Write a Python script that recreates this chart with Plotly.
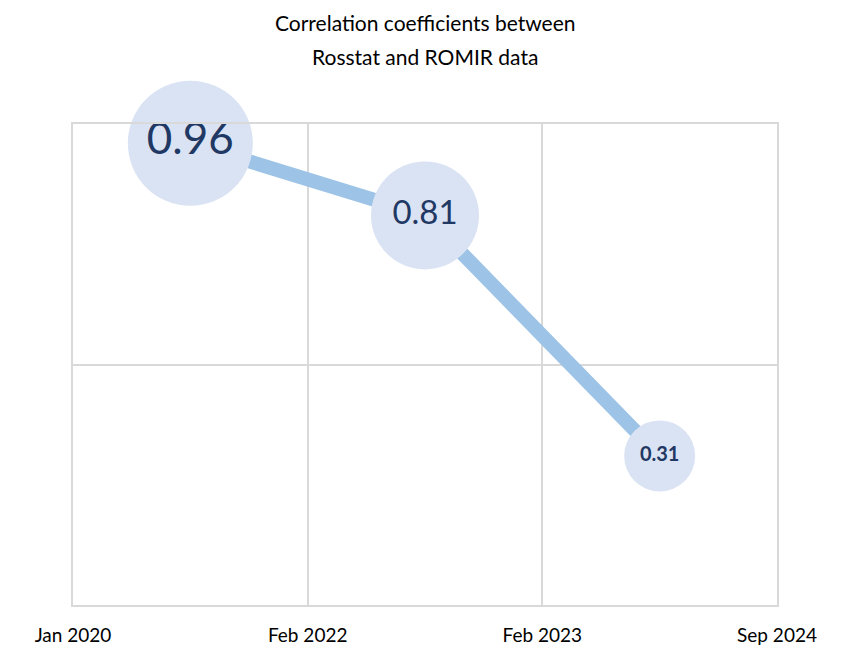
import plotly.graph_objects as go

# Data
tick_labels = ["Jan 2020", "Feb 2022", "Feb 2023", "Sep 2024"]
coefficients = [0.96, 0.81, 0.31]
bubble_sizes = [125, 108, 71]
label_sizes = [44, 33, 20]
label_bold = [False, False, True]

# each coefficient sits in the middle of the period between consecutive ticks
tick_pos = list(range(len(tick_labels)))
x_mid = [(tick_pos[i] + tick_pos[i + 1]) / 2 for i in range(len(coefficients))]
texts = [f"<b>{v:.2f}</b>" if b else f"{v:.2f}" for v, b in zip(coefficients, label_bold)]

FONT = "Lato, 'Open Sans', sans-serif"
GRID = "#D9D9D9"
W, H = 850, 658
ML, MR, MT, MB = 65, 81, 116, 61

fig = go.Figure()
fig.add_trace(go.Scatter(
    x=x_mid, y=coefficients,
    mode="lines+markers+text",
    line=dict(color="#9DC3E6", width=14),
    marker=dict(size=bubble_sizes, color="#DAE3F3", line=dict(width=0), opacity=1),
    text=texts,
    textposition="middle center",
    textfont=dict(size=label_sizes, color="#1F3864", family=FONT),
    hoverinfo="skip",
    cliponaxis=False,
    showlegend=False,
))

plot_h = H - MT - MB
title_lines = ["Correlation coefficients between", "Rosstat and ROMIR data"]
title_y_px = [14, 49]

fig.update_layout(
    width=W, height=H,
    margin=dict(l=ML, r=MR, t=MT, b=MB),
    paper_bgcolor="white", plot_bgcolor="white",
    font=dict(family=FONT, color="#000000"),
    xaxis=dict(
        range=[tick_pos[0], tick_pos[-1]],
        tickvals=tick_pos, ticktext=tick_labels,
        showgrid=True, gridcolor=GRID, gridwidth=2,
        showline=True, linecolor=GRID, linewidth=2, mirror=True,
        zeroline=False,
        ticks="outside", ticklen=12, tickcolor="rgba(0,0,0,0)",
        tickfont=dict(size=19, color="#000000", family=FONT),
        fixedrange=True,
    ),
    yaxis=dict(
        range=[0, 1], dtick=0.5,
        showgrid=True, gridcolor=GRID, gridwidth=2,
        showline=True, linecolor=GRID, linewidth=2, mirror=True,
        zeroline=False, showticklabels=False, ticks="",
        fixedrange=True,
    ),
    annotations=[
        dict(text=t, x=0.5, y=(H - MB - yp) / plot_h, xref="paper", yref="paper",
             yanchor="middle", showarrow=False,
             font=dict(size=21, family=FONT, color="#000000"))
        for t, yp in zip(title_lines, title_y_px)
    ],
)

fig.write_html("out.html")
